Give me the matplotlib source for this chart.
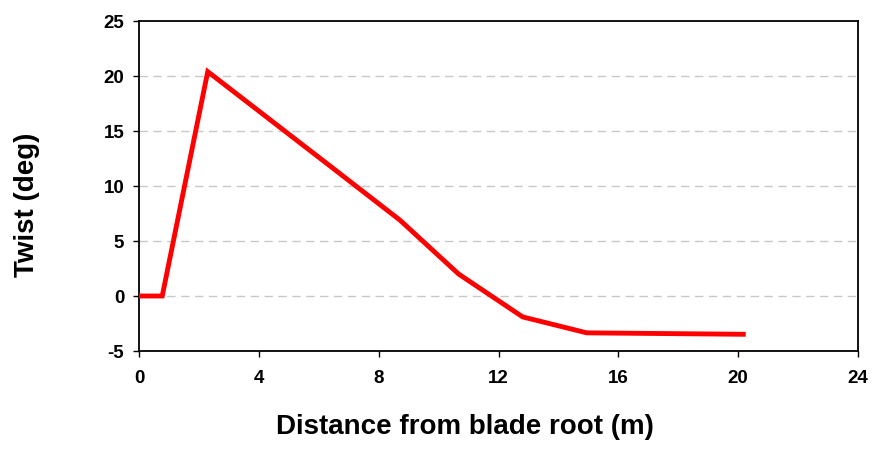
import matplotlib.pyplot as plt

# Blade twist distribution along the span
distance = [0.0, 0.76, 2.28, 6.47, 8.7, 10.66, 12.8, 14.94, 20.17]
twist = [0.0, 0.0, 20.4, 11.6, 6.9, 2.0, -1.9, -3.35, -3.48]

x_ticks = [0, 4, 8, 12, 16, 20, 24]
y_ticks = [-5, 0, 5, 10, 15, 20, 25]

plt.rcParams['font.family'] = ['Liberation Sans', 'DejaVu Sans']
plt.rcParams['axes.unicode_minus'] = False

fig = plt.figure(figsize=(8.74, 4.5), dpi=100)
ax = fig.add_axes([0.1596, 0.22, 0.822, 0.7333])

for y in y_ticks[1:-1]:
    ax.axhline(y, color='#c8c8c8', linestyle=(0, (6, 4)), linewidth=1, zorder=1)

ax.plot(distance, twist, color='#ff0000', linewidth=3.5, solid_joinstyle='miter', zorder=3)

ax.set_xlim(0, 24)
ax.set_ylim(-5, 25)
ax.set_xticks(x_ticks)
ax.set_yticks(y_ticks)
ax.tick_params(direction='out', length=4, width=1, labelsize=13.5)
ax.tick_params(axis='x', pad=10)
ax.tick_params(axis='y', pad=7)
for lab in ax.get_xticklabels() + ax.get_yticklabels():
    lab.set_fontweight('bold')

for s in ax.spines.values():
    s.set_linewidth(1.3)

ax.set_xlabel('Distance from blade root (m)', fontsize=20, fontweight='bold')
ax.set_ylabel('Twist (deg)', fontsize=20, fontweight='bold')
ax.xaxis.set_label_coords(0.453, -0.19)
ax.yaxis.set_label_coords(-0.138, 0.442)

fig.savefig('out.png', dpi=100)
